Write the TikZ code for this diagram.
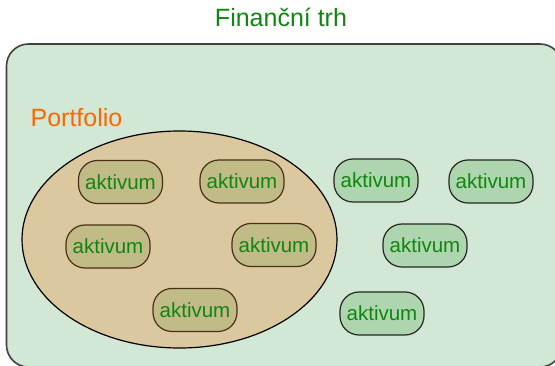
\documentclass[tikz,border=0pt]{standalone}
\usepackage{fontspec}
\setmainfont{Liberation Sans}
\usetikzlibrary{shapes.geometric}
\definecolor{mkt}{RGB}{211,232,212}
\definecolor{mktline}{RGB}{64,64,64}
\definecolor{port}{RGB}{219,200,158}
\definecolor{inbox}{RGB}{192,187,135}
\definecolor{inline}{RGB}{74,48,24}
\definecolor{outbox}{RGB}{174,214,174}
\definecolor{txt}{RGB}{16,134,16}
\definecolor{orng}{RGB}{255,102,0}
\tikzset{
  asset/.style={rectangle, rounded corners=19pt, minimum width=84pt, minimum height=43pt,
    inner sep=0pt, line width=1.2pt, text=txt, font=\fontsize{20.5}{24}\selectfont},
  inasset/.style={asset, fill=inbox, draw=inline},
  outasset/.style={asset, fill=outbox, draw=black!85},
}
\begin{document}
\begin{tikzpicture}[x=1pt,y=-1pt]
\useasboundingbox (0,0) rectangle (555,366);
\clip (0,0) rectangle (555,366);
\node (title) at (281,17) [text=txt, font=\fontsize{25}{29}\selectfont, inner sep=0pt] {Finanční trh};
\node (market) at (284.25,205.5) [rectangle, rounded corners=22pt, minimum width=555.5pt, minimum height=323pt,
   fill=mkt, draw=mktline, line width=1.6pt] {};
\node (portlabel) at (76.5,118) [text=orng, font=\fontsize{25}{30}\selectfont, inner sep=0pt] {Portfolio};
\node (portfolio) at (179.5,239.5) [ellipse, minimum width=315pt, minimum height=217pt, inner sep=0pt,
   fill=port, draw=black, line width=1.2pt] {};
\node[inasset] (a1) at (120.5,182) {aktivum};
\node[inasset] (a2) at (242,181.5) {aktivum};
\node[inasset] (a3) at (108,246.5) {aktivum};
\node[inasset] (a4) at (274,245) {aktivum};
\node[inasset] (a5) at (195,310) {aktivum};
\node[outasset] (b1) at (376,180.5) {aktivum};
\node[outasset] (b2) at (491,181.5) {aktivum};
\node[outasset] (b3) at (425,245.5) {aktivum};
\node[outasset] (b4) at (382,313.5) {aktivum};
\end{tikzpicture}
\end{document}
